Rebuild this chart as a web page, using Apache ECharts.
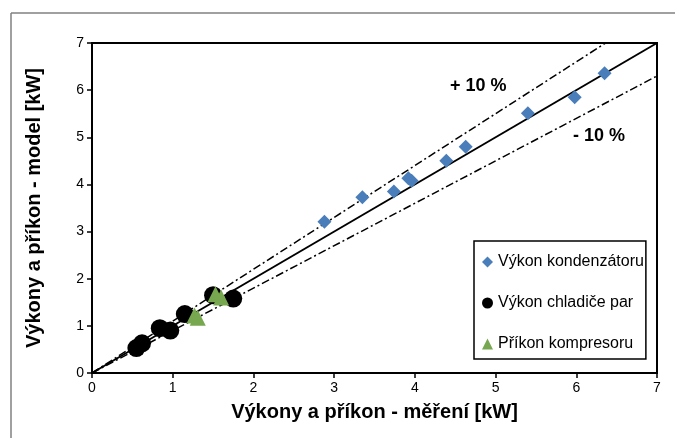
<!DOCTYPE html>
<html><head><meta charset="utf-8">
<script src="https://cdn.jsdelivr.net/npm/echarts@6/dist/echarts.min.js"></script>
<style>html,body{margin:0;padding:0;background:#fff}#c{width:675px;height:438px}</style>
</head><body><div id="c"></div>
<script>
var seriesNames = ['Výkon kondenzátoru', 'Výkon chladiče par', 'Příkon kompresoru'];
var kondX = [2.88, 3.35, 3.74, 3.92, 3.96, 4.39, 4.63, 5.40, 5.98, 6.35];
var kondY = [3.21, 3.73, 3.85, 4.13, 4.08, 4.50, 4.80, 5.51, 5.85, 6.36];
var chladX = [0.55, 0.62, 0.84, 0.97, 1.15, 1.50, 1.75];
var chladY = [0.53, 0.63, 0.95, 0.90, 1.25, 1.65, 1.58];
var kompX = [1.27, 1.31, 1.53, 1.60];
var kompY = [1.22, 1.17, 1.67, 1.60];
var lineX = [0, 7];
var refFactors = [1.0, 1.1, 0.9];
var axisTicks = [0, 1, 2, 3, 4, 5, 6, 7];
var xTitle = 'Výkony a příkon - měření [kW]';
var yTitle = 'Výkony a příkon - model [kW]';
var plusLabel = '+ 10 %';
var minusLabel = '- 10 %';

function pairs(xs, ys) { return xs.map(function (x, i) { return [x, ys[i]]; }); }
function refLine(f) { return lineX.map(function (x) { return [x, x * f]; }); }

var chart = echarts.init(document.getElementById('c'), null, {renderer: 'canvas'});
var font = 'Liberation Sans, Arial, sans-serif';
var axisCommon = {
  type: 'value', min: axisTicks[0], max: axisTicks[axisTicks.length - 1], interval: 1,
  axisLine: {show: true, lineStyle: {color: '#000', width: 2}},
  axisTick: {show: true, inside: false, length: 5, lineStyle: {color: '#000', width: 1.5}},
  splitLine: {show: false},
  axisLabel: {color: '#000', fontSize: 14, fontFamily: font, margin: 8}
};
chart.setOption({
  animation: false,
  backgroundColor: '#fff',
  grid: {left: 92, right: 18, top: 43, bottom: 65, show: true, borderColor: '#000', borderWidth: 2, backgroundColor: 'transparent'},
  xAxis: Object.assign({}, axisCommon, {
    name: xTitle, nameLocation: 'middle', nameGap: 29,
    nameTextStyle: {color: '#000', fontSize: 20, fontWeight: 'bold', fontFamily: font}
  }),
  yAxis: Object.assign({}, axisCommon, {
    name: yTitle, nameLocation: 'middle', nameGap: 48,
    nameTextStyle: {color: '#000', fontSize: 20, fontWeight: 'bold', fontFamily: font}
  }),
  legend: {
    orient: 'vertical', left: 474, top: 241,
    data: seriesNames,
    backgroundColor: '#fff', borderColor: '#000', borderWidth: 1.5,
    padding: [13, 2, 7, 8], itemGap: 25, itemWidth: 11, itemHeight: 11,
    textStyle: {color: '#000', fontSize: 16, fontFamily: font}
  },
  graphic: [
    {type: 'line', shape: {x1: 11, y1: 13, x2: 675, y2: 13}, style: {stroke: '#808080', lineWidth: 1.5}},
    {type: 'line', shape: {x1: 11, y1: 13, x2: 11, y2: 438}, style: {stroke: '#808080', lineWidth: 1.5}},
    {type: 'text', left: 450, top: 77, style: {text: plusLabel, fill: '#000', font: 'bold 18px ' + font}},
    {type: 'text', left: 573, top: 127, style: {text: minusLabel, fill: '#000', font: 'bold 18px ' + font}}
  ],
  series: [
    {type: 'line', data: refLine(refFactors[0]), symbol: 'none', lineStyle: {color: '#000', width: 2}, z: 3, silent: true},
    {type: 'line', data: refLine(refFactors[1]), symbol: 'none', lineStyle: {color: '#000', width: 1.5, type: [8, 3, 2, 3]}, z: 3, silent: true},
    {type: 'line', data: refLine(refFactors[2]), symbol: 'none', lineStyle: {color: '#000', width: 1.5, type: [8, 3, 2, 3]}, z: 3, silent: true},
    {name: seriesNames[0], type: 'scatter', data: pairs(kondX, kondY), symbol: 'diamond', symbolSize: 14, itemStyle: {color: '#4a7ebb', opacity: 1}, z: 4},
    {name: seriesNames[1], type: 'scatter', data: pairs(chladX, chladY), symbol: 'circle', symbolSize: 18, itemStyle: {color: '#000', opacity: 1}, z: 4},
    {name: seriesNames[2], type: 'scatter', data: pairs(kompX, kompY), symbol: 'triangle', symbolSize: 16, itemStyle: {color: '#77a850', opacity: 1}, z: 5}
  ]
});
</script></body></html>
